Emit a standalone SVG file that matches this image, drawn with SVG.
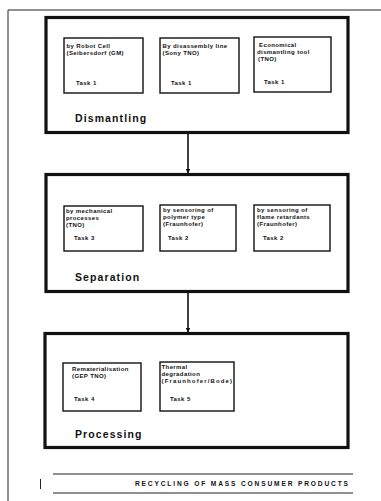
<svg xmlns="http://www.w3.org/2000/svg" width="381" height="501" viewBox="0 0 381 501">
  <style>
    .stage { fill: #fff; stroke: #111; stroke-width: 3.2; }
    .task { fill: #fff; stroke: #111; stroke-width: 1.4; }
    .t { font-family: "Liberation Sans", Arial, sans-serif; font-weight: bold; font-size: 6px; letter-spacing: 0.4px; fill: #111; }
    .h { font-family: "Liberation Sans", Arial, sans-serif; font-weight: bold; font-size: 10.5px; letter-spacing: 1.1px; fill: #111; }
    .f { font-family: "Liberation Sans", Arial, sans-serif; font-weight: bold; font-size: 6.6px; fill: #111; }
    .frame { stroke: #222; stroke-width: 1; fill: none; }
    .link { stroke: #111; stroke-width: 1.6; fill: none; marker-end: url(#arrow); }
  </style>
  <defs>
    <marker id="arrow" viewBox="0 0 10 10" refX="9" refY="5" markerWidth="5" markerHeight="5" orient="auto" markerUnits="userSpaceOnUse">
      <path d="M0,0 L10,5 L0,10 z" fill="#111"/>
    </marker>
  </defs>
  <rect width="381" height="501" fill="#fff"/>

  <!-- page frame -->
  <g id="frame">
    <line class="frame" x1="8" y1="10" x2="381" y2="10"/>
    <line class="frame" x1="8" y1="10" x2="8" y2="501"/>
  </g>

  <!-- stage 1 -->
  <g id="dismantling">
    <rect class="stage" x="46" y="17.5" width="302" height="115"/>
    <text class="h" x="75" y="122">Dismantling</text>
    <g id="d1">
      <rect class="task" x="64" y="38" width="79" height="55"/>
      <text class="t" x="66.5" y="48">by Robot Cell</text>
      <text class="t" x="66.5" y="55">(Seibersdorf  (GM)</text>
      <text class="t" x="76" y="85">Task 1</text>
    </g>
    <g id="d2">
      <rect class="task" x="160" y="38" width="79" height="55"/>
      <text class="t" x="162.5" y="48">By disassembly line</text>
      <text class="t" x="162.5" y="55">(Sony  TNO)</text>
      <text class="t" x="171" y="85">Task 1</text>
    </g>
    <g id="d3">
      <rect class="task" x="254" y="37" width="77" height="55"/>
      <text class="t" x="259" y="47">Economical</text>
      <text class="t" x="257" y="54">dismantling tool</text>
      <text class="t" x="258" y="61">(TNO)</text>
      <text class="t" x="264" y="84">Task 1</text>
    </g>
  </g>

  <!-- stage 2 -->
  <g id="separation">
    <rect class="stage" x="46" y="174.5" width="302" height="117"/>
    <text class="h" x="75" y="281">Separation</text>
    <g id="s1">
      <rect class="task" x="64" y="206" width="79" height="45"/>
      <text class="t" x="66" y="213">by mechanical</text>
      <text class="t" x="66" y="220">processes</text>
      <text class="t" x="66" y="227">(TNO)</text>
      <text class="t" x="74" y="240">Task 3</text>
    </g>
    <g id="s2">
      <rect class="task" x="160" y="205" width="76" height="46"/>
      <text class="t" x="163" y="212">by sensoring of</text>
      <text class="t" x="163" y="219">polymer type</text>
      <text class="t" x="163" y="226">(Fraunhofer)</text>
      <text class="t" x="168" y="240">Task 2</text>
    </g>
    <g id="s3">
      <rect class="task" x="254" y="205" width="76" height="46"/>
      <text class="t" x="257" y="212">by sensoring of</text>
      <text class="t" x="257" y="219">flame retardants</text>
      <text class="t" x="257" y="226">(Fraunhofer)</text>
      <text class="t" x="263" y="240">Task 2</text>
    </g>
  </g>

  <!-- stage 3 -->
  <g id="processing">
    <rect class="stage" x="45" y="333.5" width="303" height="114"/>
    <text class="h" x="75" y="438">Processing</text>
    <g id="p1">
      <rect class="task" x="63" y="363" width="78" height="48"/>
      <text class="t" x="72" y="371">Rematerialisation</text>
      <text class="t" x="72" y="378">(GEP  TNO)</text>
      <text class="t" x="74" y="401">Task 4</text>
    </g>
    <g id="p2">
      <rect class="task" x="160" y="362" width="74" height="49"/>
      <text class="t" x="161.5" y="369">Thermal</text>
      <text class="t" x="161.5" y="376">degradation</text>
      <text class="t" x="161.5" y="383" textLength="71" lengthAdjust="spacing">(Fraunhofer/Bode)</text>
      <text class="t" x="170" y="401">Task 5</text>
    </g>
  </g>

  <!-- connectors between stages -->
  <g id="connectors">
    <line class="link" x1="188" y1="134" x2="188" y2="173"/>
    <line class="link" x1="188" y1="293" x2="188" y2="332"/>
  </g>

  <!-- footer caption -->
  <g id="caption">
    <line class="frame" x1="53" y1="474" x2="353" y2="474" stroke-width="0.8"/>
    <line class="frame" x1="53" y1="493" x2="353" y2="493" stroke-width="0.8"/>
    <line class="frame" x1="40.5" y1="479" x2="40.5" y2="489" stroke-width="0.8"/>
    <text class="f" x="135" y="486" textLength="213">RECYCLING OF MASS CONSUMER PRODUCTS</text>
  </g>
</svg>
